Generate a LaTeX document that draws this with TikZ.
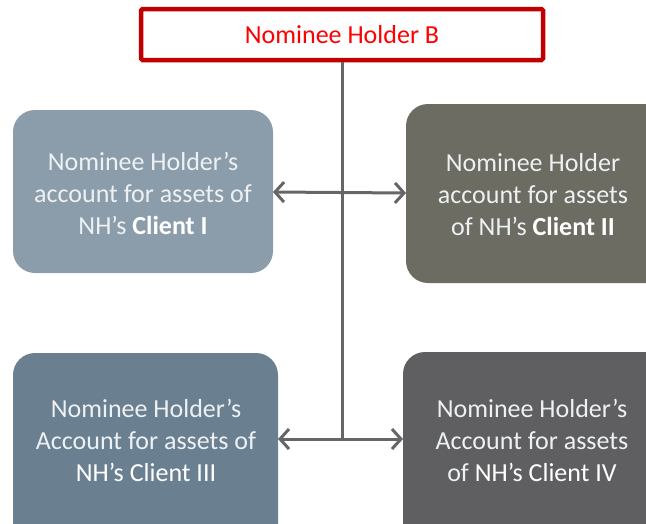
\documentclass[tikz,border=0pt]{standalone}
\usepackage{fontspec}
\setmainfont{Carlito}
\usetikzlibrary{arrows.meta}
\definecolor{nhred}{HTML}{C00000}
\definecolor{nhtext}{HTML}{FF0000}
\definecolor{cI}{HTML}{8B9DAA}
\definecolor{cII}{HTML}{6C6C62}
\definecolor{cIII}{HTML}{6A8091}
\definecolor{cIV}{HTML}{5F5F61}
\definecolor{conn}{HTML}{666666}
\definecolor{lighttxt}{HTML}{EEF1F3}
\tikzset{
  acct/.style={rounded corners=22pt, inner sep=0pt, text=lighttxt, align=center,
     font=\fontsize{26}{32}\selectfont, draw=none},
  link/.style={draw=conn, line width=3pt},
  twoway/.style={link, {Straight Barb[length=9pt,width=20pt,line width=3pt]}-{Straight Barb[length=9pt,width=20pt,line width=3pt]}},
}
\begin{document}
\begin{tikzpicture}[x=1pt,y=-1pt]
\useasboundingbox (0,0) rectangle (646,523);
\clip (0,0) rectangle (646,523);
\fill[cI, rounded corners=22pt] (13,110) rectangle (273,273);
\fill[cII, rounded corners=22pt] (406,104) rectangle (690,283);
\fill[cIII, rounded corners=22pt] (13,353) rectangle (278,560);
\fill[cIV, rounded corners=22pt] (403,352) rectangle (690,560);
\node[acct] (bI) at (143,193) {Nominee Holder’s\\account for assets of\\NH’s \textcolor{white}{\textbf{Client I}}};
\node[acct] (bII) at (533,195) {Nominee Holder\\account for assets\\of NH’s \textcolor{white}{\textbf{Client II}}};
\node[acct] (bIII) at (146,440) {Nominee Holder’s\\Account for assets of\\\textcolor{white}{NH’s Client III}};
\node[acct] (bIV) at (532,440) {Nominee Holder’s\\Account for assets\\of \textcolor{white}{NH’s Client IV}};
\coordinate (lI) at (273,192);
\coordinate (rII) at (406,193);
\coordinate (lIII) at (278,439);
\coordinate (rIV) at (403,439);
\coordinate (joint) at (342,439);
\node[draw=nhred, line width=4.5pt, fill=white, minimum width=402pt, minimum height=51pt,
      rounded corners=1.5pt, text=nhtext, font=\fontsize{26}{30}\selectfont] (top) at (342,34.5) {Nominee Holder B};
\draw[link] (top.south) -- (joint);
\draw[twoway] (lI) -- (rII);
\draw[twoway] (lIII) -- (rIV);
\end{tikzpicture}
\end{document}
